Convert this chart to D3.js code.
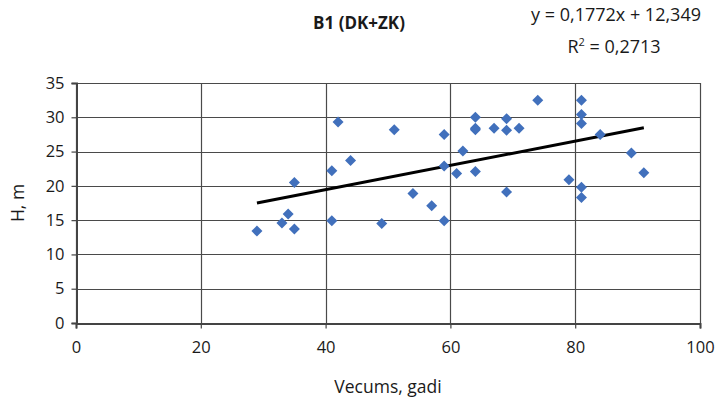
<!DOCTYPE html>
<html><head><meta charset="utf-8">
<script src="https://cdn.jsdelivr.net/npm/d3@7"></script>
<style>body{margin:0;background:#fff}svg{display:block}text{font-family:"Open Sans",sans-serif;fill:#1a1a1a}</style>
</head><body><svg id="c" width="721" height="401"></svg>
<script>
const ages = [29,33,34,35,35,41,41,42,44,49,51,54,57,59,59,59,61,62,64,64,64,64,67,69,69,69,71,74,79,81,81,81,81,81,84,89,91];
const heights = [13.4,14.6,15.9,13.7,20.5,14.9,22.2,29.3,23.7,14.5,28.2,18.9,17.1,27.5,22.9,14.9,21.8,25.1,30,28.2,28.4,22.1,28.4,29.8,28.1,19.1,28.4,32.5,20.9,32.5,30.4,29.1,19.8,18.3,27.5,24.8,21.9];
const xTicks = [0,20,40,60,80,100];
const yTicks = [0,5,10,15,20,25,30,35];
const slope = 0.1772, intercept = 12.349;
const title = "B1 (DK+ZK)";
const xTitle = "Vecums, gadi", yTitle = "H, m";

const svg = d3.select("#c");
const x = d3.scaleLinear().domain([0,100]).range([76,700]);
const y = d3.scaleLinear().domain([0,35]).range([323,83]);

// grid
svg.append("g").selectAll("line").data(yTicks).join("line")
  .attr("x1",x(0)).attr("x2",x(100)).attr("y1",d=>Math.round(y(d))+0.5).attr("y2",d=>Math.round(y(d))+0.5)
  .attr("stroke","#4a4a4a").attr("stroke-width",1.2);
svg.append("g").selectAll("line").data(xTicks).join("line")
  .attr("y1",y(0)).attr("y2",y(35)).attr("x1",d=>Math.round(x(d))+0.5).attr("x2",d=>Math.round(x(d))+0.5)
  .attr("stroke","#4a4a4a").attr("stroke-width",1.2);

// axes
const xa = svg.append("g").attr("transform",`translate(0,${Math.round(y(0))+0.5})`)
  .call(d3.axisBottom(x).tickValues(xTicks).tickSize(5).tickPadding(13));
const ya = svg.append("g").attr("transform",`translate(${Math.round(x(0))+0.5},0)`)
  .call(d3.axisLeft(y).tickValues(yTicks).tickSize(5).tickPadding(7));
[xa,ya].forEach(a=>{
  a.select(".domain").attr("stroke","#444").attr("stroke-width",2);
  a.selectAll(".tick line").attr("stroke","#444").attr("stroke-width",1.2);
  a.selectAll("text").attr("font-size",16.5).attr("fill","#1a1a1a").style("font-family","'Open Sans',sans-serif");
});

// trendline
const xmin = d3.min(ages), xmax = d3.max(ages);
svg.append("line").attr("x1",x(xmin)).attr("y1",y(slope*xmin+intercept))
  .attr("x2",x(xmax)).attr("y2",y(slope*xmax+intercept))
  .attr("stroke","#000").attr("stroke-width",3);

// points
const r = 5.5;
svg.append("g").selectAll("path").data(ages.map((a,i)=>[a,heights[i]])).join("path")
  .attr("d",d=>{const cx=x(d[0]), cy=y(d[1]); return `M${cx},${cy-r}L${cx+r},${cy}L${cx},${cy+r}L${cx-r},${cy}Z`;})
  .attr("fill","#4170BC");

// texts
svg.append("text").attr("x",359).attr("y",29).attr("text-anchor","middle")
  .attr("font-size",17).attr("font-weight","bold").text(title);
svg.append("text").attr("x",616).attr("y",21).attr("text-anchor","middle").attr("font-size",18)
  .text("y = 0,1772x + 12,349");
const r2 = svg.append("text").attr("x",614).attr("y",53).attr("text-anchor","middle").attr("font-size",18);
r2.append("tspan").text("R");
r2.append("tspan").attr("font-size",11).attr("dy",-7).text("2");
r2.append("tspan").attr("dy",7).text(" = 0,2713");
svg.append("text").attr("x",388).attr("y",393).attr("text-anchor","middle").attr("font-size",17.5).text(xTitle);
svg.append("text").attr("transform","translate(24,203) rotate(-90)").attr("text-anchor","middle").attr("font-size",17.5).text(yTitle);
</script></body></html>
